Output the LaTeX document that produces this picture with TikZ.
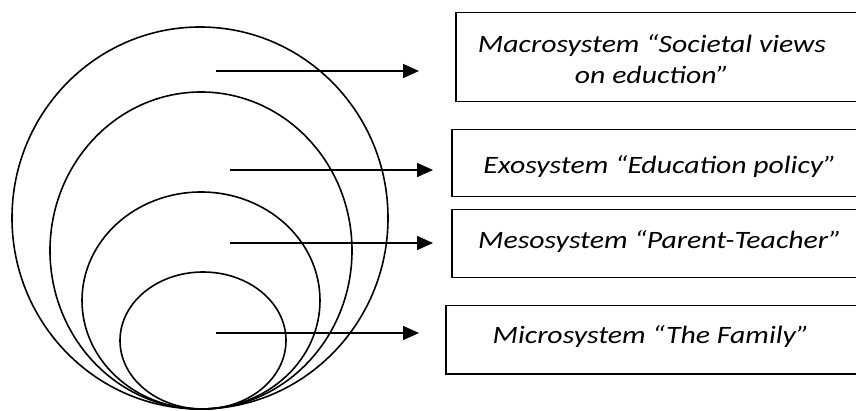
\documentclass[tikz,border=0pt]{standalone}
\usepackage{fontspec}
\setmainfont{Carlito}
\newfontfamily\lblfont[FakeStretch=1.19]{Carlito}
\usetikzlibrary{arrows.meta}
\begin{document}
\begin{tikzpicture}[x=1pt,y=-1pt,
  ring/.style={draw,line width=1.6pt},
  box/.style={draw,line width=1.5pt,rectangle,anchor=north west,inner sep=0pt},
  lbl/.style={font=\lblfont\fontsize{25}{31}\selectfont\itshape,align=center,inner sep=0pt,anchor=base},
  conn/.style={line width=1.5pt,-{Triangle[length=16pt,width=14pt]}}]
\useasboundingbox (0,0) rectangle (856,411);
\clip (0,0) rectangle (856,411);
% nested systems
\draw[ring] (200,218) ellipse [x radius=188pt, y radius=191pt];
\draw[ring] (201,250.5) ellipse [x radius=151pt, y radius=158.5pt];
\draw[ring] (201,300.5) ellipse [x radius=119pt, y radius=108.5pt];
\draw[ring] (203,340.5) ellipse [x radius=83pt, y radius=68.5pt];
% boxes
\node[box,minimum width=420pt,minimum height=89pt] (b1) at (455,12) {};
\node[box,minimum width=424pt,minimum height=67pt] (b2) at (451,129) {};
\node[box,minimum width=424pt,minimum height=68pt] (b3) at (451,209) {};
\node[box,minimum width=430pt,minimum height=68pt] (b4) at (445,305) {};
% labels
\node[lbl] (t1) at (652,84) {Macrosystem “Societal views\\on eduction”};
\node[lbl] (t2) at (660,174) {Exosystem “Education policy”};
\node[lbl] (t3) at (660,249) {Mesosystem “Parent-Teacher”};
\node[lbl] (t4) at (651,343) {Microsystem “The Family”};
% arrows
\coordinate (s1) at (216,71);  \coordinate (e1) at (419,71);
\coordinate (s2) at (230,170); \coordinate (e2) at (433,170);
\coordinate (s3) at (230,243); \coordinate (e3) at (433,243);
\coordinate (s4) at (216,333); \coordinate (e4) at (419,333);
\draw[conn] (s1) -- (e1);
\draw[conn] (s2) -- (e2);
\draw[conn] (s3) -- (e3);
\draw[conn] (s4) -- (e4);
\end{tikzpicture}
\end{document}
